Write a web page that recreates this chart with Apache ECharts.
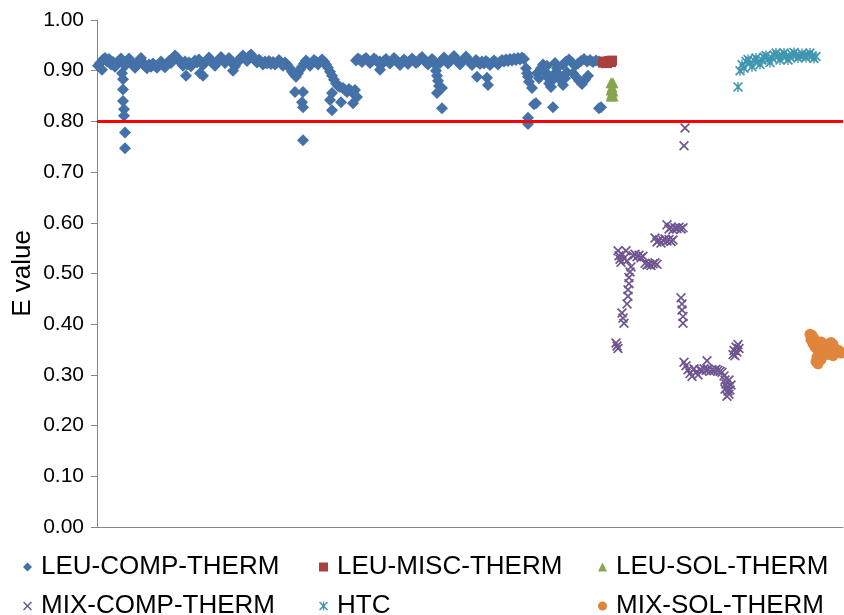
<!DOCTYPE html>
<html>
<head>
<meta charset="utf-8">
<title>E value by benchmark case</title>
<script src="https://cdn.jsdelivr.net/npm/echarts@6/dist/echarts.min.js"></script>
<style>
  html, body { margin: 0; padding: 0; background: #ffffff; }
  #chart { width: 844px; height: 615px; }
</style>
</head>
<body>
<div id="chart"></div>
<script>
// Series names, in legend order
const seriesNames = ['LEU-COMP-THERM', 'LEU-MISC-THERM', 'LEU-SOL-THERM', 'MIX-COMP-THERM', 'HTC', 'MIX-SOL-THERM'];

// Acceptance threshold drawn as a horizontal line
const threshold = 0.80;

// Case index range and E-value axis range
const caseMin = 0, caseMax = 746;
const eMin = 0, eMax = 1, eStep = 0.1;

// [case index, E value]
const leuCompTherm = [
  [1,0.910],[3,0.915],[5,0.902],[6,0.922],[8,0.925],[10,0.918],[12,0.923],[14,0.912],[16,0.917],[18,0.908],
  [20,0.914],[22,0.920],[24,0.924],[26,0.915],[28,0.910],[30,0.919],[32,0.924],[34,0.917],[36,0.911],[38,0.906],
  [40,0.913],[42,0.920],[44,0.925],[46,0.916],[48,0.909],[50,0.905],[52,0.912],[54,0.908],[56,0.914],[58,0.910],
  [60,0.906],[62,0.912],[64,0.918],[66,0.911],[68,0.907],[70,0.913],[72,0.919],[74,0.915],[76,0.924],[78,0.930],
  [80,0.926],[82,0.921],[84,0.915],[86,0.910],[88,0.918],[90,0.912],[92,0.916],[94,0.909],[96,0.914],[98,0.920],
  [100,0.916],[102,0.922],[104,0.917],[106,0.911],[108,0.916],[110,0.921],[112,0.926],[114,0.919],[116,0.914],[118,0.910],
  [120,0.916],[122,0.922],[124,0.927],[126,0.921],[128,0.915],[130,0.920],[132,0.925],[134,0.919],[136,0.914],[138,0.909],
  [140,0.915],[142,0.921],[144,0.926],[146,0.930],[148,0.925],[150,0.919],[152,0.928],[154,0.932],[156,0.926],[158,0.921],
  [160,0.916],[162,0.922],[164,0.917],[166,0.912],[168,0.918],[170,0.914],[172,0.919],[174,0.913],[176,0.917],[178,0.912],
  [180,0.916],[182,0.921],[184,0.914],[186,0.910],[188,0.916],[190,0.912],
  // early low column
  [25,0.895],[26,0.883],[26,0.863],[26,0.840],[27,0.824],[27,0.811],[28,0.778],[28,0.747],
  [89,0.890],[103,0.895],[106,0.890],[136,0.900],
  // dip near case 200
  [193,0.905],[195,0.898],[197,0.893],[199,0.888],[201,0.895],[203,0.902],
  [198,0.858],[206,0.858],[205,0.838],[206,0.828],[206,0.763],
  [205,0.908],[207,0.914],[209,0.920],[211,0.916],[213,0.910],[215,0.915],[217,0.921],[219,0.918],[221,0.912],[223,0.917],
  [225,0.922],[227,0.918],[229,0.912],[231,0.906],
  [233,0.898],[235,0.890],[237,0.882],[239,0.875],[241,0.870],[243,0.868],
  [235,0.856],[233,0.842],[235,0.822],[244,0.838],
  [246,0.866],[248,0.862],[250,0.858],[252,0.864],[254,0.860],[256,0.856],[258,0.862],[256,0.836],[260,0.848],
  [259,0.920],[261,0.924],[263,0.921],[265,0.917],[267,0.922],[269,0.925],[271,0.920],[273,0.915],[275,0.919],[277,0.924],
  [279,0.921],[281,0.916],[283,0.918],[283,0.902],[285,0.913],[287,0.919],[289,0.923],[291,0.918],[293,0.914],[295,0.920],
  [297,0.925],[299,0.921],[301,0.916],[303,0.911],[305,0.917],[307,0.922],[309,0.918],[311,0.913],[313,0.919],[315,0.924],
  [317,0.920],[319,0.915],[321,0.918],[323,0.923],[325,0.927],[327,0.921],[329,0.916],[331,0.912],[333,0.918],[335,0.923],
  [337,0.919],
  [338,0.912],[339,0.900],[340,0.890],[341,0.880],[342,0.870],[340,0.856],[345,0.866],[345,0.826],
  [343,0.915],[345,0.921],[347,0.926],[349,0.920],[351,0.914],[353,0.918],[355,0.924],[357,0.929],[359,0.923],[361,0.917],
  [363,0.912],[365,0.918],[367,0.923],[369,0.928],[371,0.922],[373,0.916],[375,0.911],[377,0.916],[379,0.921],[381,0.917],
  [383,0.913],[385,0.918],[387,0.914],[389,0.919],[391,0.915],[393,0.911],[395,0.916],[397,0.920],[399,0.916],[401,0.912],
  [403,0.917],[405,0.921],[407,0.918],[409,0.922],[411,0.919],[413,0.923],[415,0.920],[417,0.924],[419,0.921],[421,0.925],
  [423,0.922],[425,0.926],[427,0.923],
  [380,0.888],[390,0.886],[391,0.872],
  [429,0.905],[430,0.895],[431,0.888],[432,0.878],[435,0.866],[431,0.807],[431,0.795],[437,0.834],[439,0.836],
  [440,0.895],[442,0.885],[444,0.905],[446,0.912],[448,0.898],[450,0.888],[452,0.875],[454,0.868],[456,0.882],[458,0.895],
  [460,0.905],[462,0.892],[464,0.880],[466,0.872],[468,0.885],[470,0.897],[456,0.828],[450,0.910],[458,0.915],
  [466,0.912],[469,0.918],[472,0.922],[475,0.916],[478,0.910],[481,0.914],[484,0.919],[487,0.923],[490,0.918],[493,0.921],
  [496,0.917],[499,0.920],[502,0.918],[505,0.916],
  [476,0.895],[479,0.888],[482,0.880],[485,0.874],[488,0.882],[491,0.890],
  [502,0.826],[504,0.828]
];

const leuMiscTherm = [
  [506,0.916],[508,0.918],[510,0.915],[512,0.919],[514,0.917],[515,0.920]
];

const leuSolTherm = [
  [514,0.876],[516,0.876],[515,0.868],[514,0.862],[516,0.860],[515,0.855],[514,0.850],[516,0.850]
];

const mixCompTherm = [
  [588,0.787],[587,0.752],
  [519,0.363],[520,0.357],[521,0.352],
  [525,0.422],[526,0.412],[527,0.402],
  [530,0.440],[531,0.455],[531,0.468],[532,0.480],[532,0.492],[533,0.503],[534,0.513],
  [521,0.545],[522,0.535],[523,0.528],[524,0.522],[525,0.538],[527,0.530],[529,0.545],[530,0.525],
  [536,0.535],[538,0.538],[540,0.533],[542,0.536],[544,0.531],[546,0.534],
  [548,0.520],[550,0.517],[552,0.518],[554,0.516],[556,0.519],[558,0.521],[560,0.518],
  [558,0.570],[560,0.562],[562,0.566],[564,0.560],[566,0.565],[568,0.568],[570,0.564],[572,0.567],[574,0.563],[576,0.566],
  [570,0.596],[572,0.588],[574,0.591],[576,0.587],[578,0.590],[580,0.589],[582,0.591],[584,0.588],[586,0.590],
  [584,0.452],[585,0.440],[585,0.428],[586,0.415],[586,0.402],
  [587,0.325],[589,0.318],[591,0.310],[593,0.303],[595,0.297],[597,0.312],[599,0.305],[601,0.300],
  [603,0.310],[605,0.308],[607,0.312],[609,0.309],[611,0.311],[613,0.307],[615,0.310],[617,0.308],[619,0.311],[621,0.309],
  [623,0.307],[625,0.305],[610,0.328],
  [627,0.298],[628,0.290],[629,0.282],[630,0.275],[631,0.268],[632,0.262],[630,0.258],[633,0.270],[634,0.280],[628,0.272],[632,0.290],
  [636,0.340],[637,0.348],[639,0.355],[640,0.345],[641,0.360],[642,0.352],[638,0.338]
];

const htc = [
  [641,0.868],[643,0.900],[645,0.912],[647,0.905],[649,0.918],[651,0.922],[653,0.915],[655,0.908],[657,0.920],[659,0.925],
  [661,0.917],[663,0.912],[665,0.921],[667,0.927],[669,0.930],[671,0.922],[673,0.916],[675,0.925],[677,0.931],[679,0.935],
  [681,0.928],[683,0.921],[685,0.930],[687,0.935],[689,0.928],[691,0.921],[693,0.927],[695,0.932],[697,0.936],[699,0.930],
  [701,0.925],[703,0.929],[705,0.934],[707,0.930],[709,0.926],[711,0.931],[713,0.935],[715,0.929],[717,0.924],[719,0.928]
];

const mixSolTherm = [
  [713,0.380],[715,0.378],[714,0.370],[717,0.372],[716,0.362],[718,0.355],[720,0.352],[722,0.360],[724,0.365],[726,0.362],
  [728,0.355],[730,0.350],[732,0.358],[734,0.364],[736,0.360],[738,0.352],[740,0.345],[742,0.348],[744,0.343],[722,0.342],
  [720,0.335],[719,0.326],[721,0.322],[724,0.330],[734,0.345],[736,0.338],[730,0.340]
];

// Marker shapes: thin cross and cross with vertical bar
const crossPath = 'path://M0,1.2 L1.2,0 L5,3.8 L8.8,0 L10,1.2 L6.2,5 L10,8.8 L8.8,10 L5,6.2 L1.2,10 L0,8.8 L3.8,5 Z';
const starPath = 'path://M0,1.2 L1.2,0 L5,3.8 L8.8,0 L10,1.2 L6.2,5 L10,8.8 L8.8,10 L5,6.2 L1.2,10 L0,8.8 L3.8,5 Z M4.3,0 L5.7,0 L5.7,10 L4.3,10 Z';

const colors = ['#4471A8', '#A9403D', '#89A54E', '#6F5590', '#3E97B0', '#E0853C'];
const symbols = ['diamond', 'rect', 'triangle', crossPath, starPath, 'circle'];
const sizes = [12, 10, 11, 10, 10, 11];
const datasets = [leuCompTherm, leuMiscTherm, leuSolTherm, mixCompTherm, htc, mixSolTherm];

const FONT = '"Liberation Sans", Arial, sans-serif';

// One legend block per entry, laid out in a 3 x 2 grid under the plot
const legendCols = [18, 314, 593];
const legendRows = [549, 588];
const legends = seriesNames.map((name, i) => ({
  data: [name],
  left: legendCols[i % 3],
  top: legendRows[Math.floor(i / 3)],
  itemWidth: 9,
  itemHeight: 9,
  selectedMode: false,
  textStyle: { fontFamily: FONT, fontSize: 26, color: '#000', padding: [0, 0, 0, 4] }
}));

const series = seriesNames.map((name, i) => ({
  name: name,
  type: 'scatter',
  data: datasets[i],
  symbol: symbols[i],
  symbolSize: sizes[i],
  itemStyle: { color: colors[i], opacity: 1 },
  z: 3,
  silent: true
}));

// Threshold line across the whole plot
series.push({
  name: 'threshold',
  type: 'line',
  data: [],
  silent: true,
  z: 2,
  markLine: {
    silent: true,
    symbol: 'none',
    label: { show: false },
    lineStyle: { color: '#FF0000', width: 3, type: 'solid' },
    data: [{ yAxis: threshold }]
  }
});

const chart = echarts.init(document.getElementById('chart'), null, { renderer: 'canvas' });
chart.setOption({
  animation: false,
  backgroundColor: '#ffffff',
  grid: { left: 97, right: 1, top: 20, bottom: 88, containLabel: false, outerBoundsMode: 'none' },
  legend: legends,
  xAxis: {
    type: 'value',
    min: caseMin,
    max: caseMax,
    axisLine: { show: true, onZero: false, lineStyle: { color: '#868686', width: 1 } },
    axisTick: { show: false },
    axisLabel: { show: false },
    splitLine: { show: false }
  },
  yAxis: {
    type: 'value',
    min: eMin,
    max: eMax,
    interval: eStep,
    name: 'E value',
    nameLocation: 'middle',
    nameRotate: 90,
    nameGap: 61,
    nameMoveOverlap: false,
    nameTextStyle: { fontFamily: FONT, fontSize: 26, color: '#000' },
    axisLine: { show: true, lineStyle: { color: '#868686', width: 1 } },
    axisTick: { show: true, inside: false, length: 6, lineStyle: { color: '#868686' } },
    axisLabel: {
      fontFamily: FONT, fontSize: 21, color: '#000', margin: 13,
      formatter: v => v.toFixed(2)
    },
    splitLine: { show: false }
  },
  series: series
});
</script>
</body>
</html>
